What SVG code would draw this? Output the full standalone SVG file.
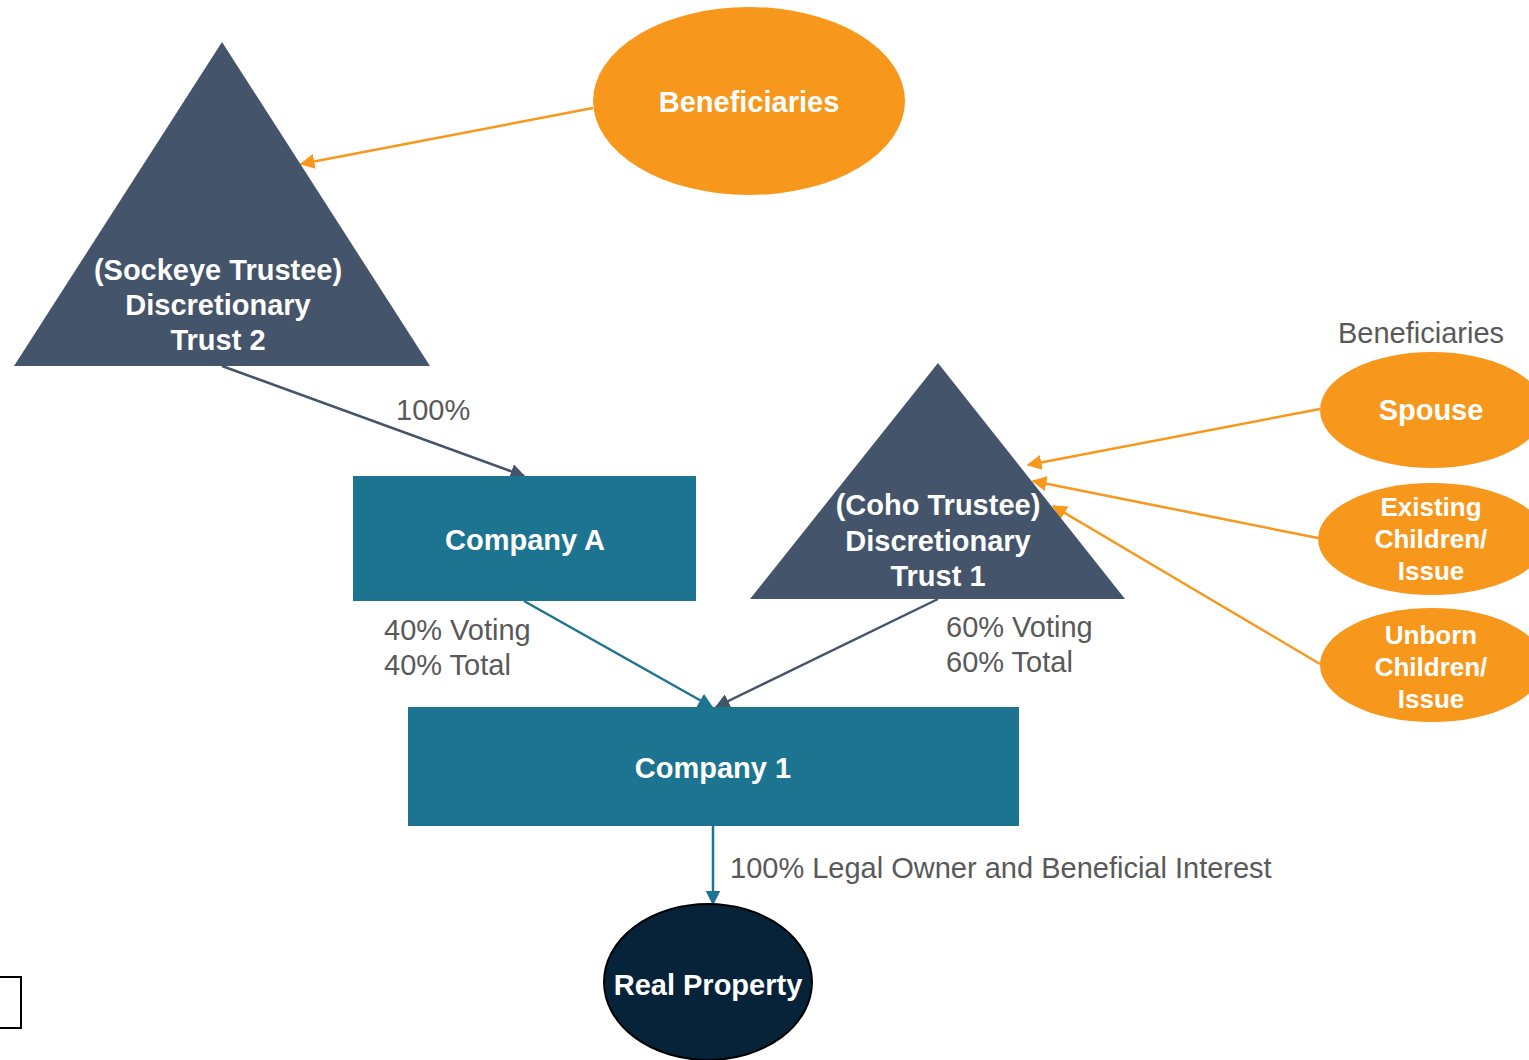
<svg xmlns="http://www.w3.org/2000/svg" width="1529" height="1060" viewBox="0 0 1529 1060">
<style>
.w{font-family:"Liberation Sans",Arial,sans-serif;font-weight:bold;fill:#fff;text-anchor:middle}
.g{font-family:"Liberation Sans",Arial,sans-serif;fill:#595959;font-size:29px}
.o{stroke:#F7981D;stroke-width:2.5;fill:none;marker-end:url(#ao)}
.s{stroke:#44546A;stroke-width:2.5;fill:none;marker-end:url(#as)}
.t{stroke:#1D7490;stroke-width:2.5;fill:none;marker-end:url(#at)}
</style>
<defs>
<marker id="ao" viewBox="0 0 10 10" refX="9" refY="5" markerWidth="6" markerHeight="6" orient="auto" markerUnits="strokeWidth"><path d="M0,0L10,5L0,10z" fill="#F7981D"/></marker>
<marker id="as" viewBox="0 0 10 10" refX="9" refY="5" markerWidth="6" markerHeight="6" orient="auto" markerUnits="strokeWidth"><path d="M0,0L10,5L0,10z" fill="#44546A"/></marker>
<marker id="at" viewBox="0 0 10 10" refX="9" refY="5" markerWidth="6" markerHeight="6" orient="auto" markerUnits="strokeWidth"><path d="M0,0L10,5L0,10z" fill="#1D7490"/></marker>
</defs>
<rect width="1529" height="1060" fill="#fff"/>
<g id="connectors">
<line class="o" x1="593" y1="108" x2="301" y2="164"/>
<line class="s" x1="222" y1="366" x2="524" y2="476"/>
<line class="t" x1="524" y1="601" x2="712" y2="707"/>
<line class="s" x1="938" y1="599" x2="716" y2="707"/>
<line class="t" x1="713" y1="826" x2="713" y2="904"/>
<line class="o" x1="1320" y1="409" x2="1028" y2="465"/>
<line class="o" x1="1318" y1="538" x2="1033" y2="481"/>
<line class="o" x1="1320" y1="664" x2="1053" y2="506"/>
</g>
<g id="beneficiaries">
<ellipse cx="749" cy="101" rx="156" ry="94" fill="#F7981D"/>
<text class="w" x="749" y="112" font-size="29">Beneficiaries</text>
</g>
<g id="trust2">
<polygon points="222,42 430,366 14,366" fill="#44546A"/>
<text class="w" font-size="29" x="218"><tspan x="218" y="280">(Sockeye Trustee)</tspan><tspan x="218" y="315">Discretionary</tspan><tspan x="218" y="350">Trust 2</tspan></text>
</g>
<g id="companyA">
<rect x="353" y="476" width="343" height="125" fill="#1D7490"/>
<text class="w" x="525" y="550" font-size="29">Company A</text>
</g>
<g id="trust1">
<polygon points="938,363 1125,599 750,599" fill="#44546A"/>
<text class="w" font-size="29"><tspan x="938" y="515">(Coho Trustee)</tspan><tspan x="938" y="551">Discretionary</tspan><tspan x="938" y="586">Trust 1</tspan></text>
</g>
<g id="company1">
<rect x="408" y="707" width="611" height="119" fill="#1D7490"/>
<text class="w" x="713" y="778" font-size="29">Company 1</text>
</g>
<g id="realProperty">
<ellipse cx="708" cy="982" rx="104" ry="78" fill="#06233A" stroke="#000" stroke-width="2"/>
<text class="w" x="708" y="995" font-size="29">Real Property</text>
</g>
<g id="spouse">
<ellipse cx="1432" cy="410" rx="112" ry="58" fill="#F7981D"/>
<text class="w" x="1431" y="420" font-size="29">Spouse</text>
</g>
<g id="existing">
<ellipse cx="1432" cy="539" rx="114" ry="56" fill="#F7981D"/>
<text class="w" font-size="26"><tspan x="1431" y="516">Existing</tspan><tspan x="1431" y="548">Children/</tspan><tspan x="1431" y="580">Issue</tspan></text>
</g>
<g id="unborn">
<ellipse cx="1432" cy="665" rx="112" ry="57" fill="#F7981D"/>
<text class="w" font-size="26"><tspan x="1431" y="644">Unborn</tspan><tspan x="1431" y="676">Children/</tspan><tspan x="1431" y="708">Issue</tspan></text>
</g>
<g id="labels">
<text class="g" x="1338" y="343">Beneficiaries</text>
<text class="g" x="396" y="420">100%</text>
<text class="g" x="384" y="640">40% Voting</text>
<text class="g" x="384" y="675">40% Total</text>
<text class="g" x="946" y="637">60% Voting</text>
<text class="g" x="946" y="672">60% Total</text>
<text class="g" x="730" y="878">100% Legal Owner and Beneficial Interest</text>
</g>
<rect x="-2" y="977" width="23" height="51" fill="none" stroke="#000" stroke-width="2"/>
</svg>
